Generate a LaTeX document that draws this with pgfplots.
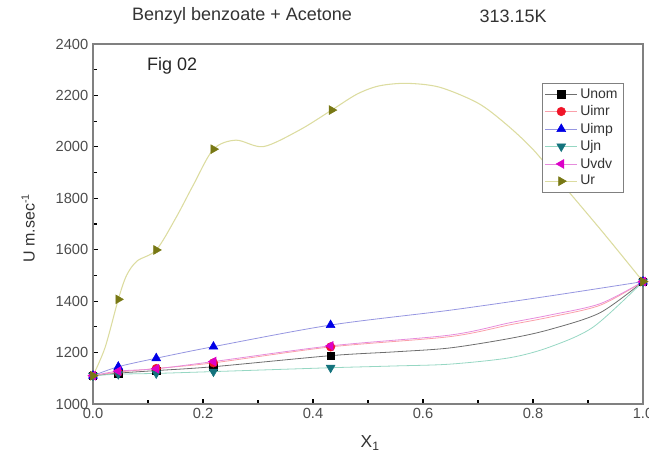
\documentclass[border=0pt]{standalone}
\usepackage{pgfplots}
\pgfplotsset{compat=1.18}
\usepackage{fontspec}
\setmainfont{Liberation Sans}

\definecolor{mnom}{RGB}{0,0,0}
\definecolor{lnom}{RGB}{110,110,110}
\definecolor{mimr}{RGB}{240,20,40}
\definecolor{limr}{RGB}{250,160,170}
\definecolor{mimp}{RGB}{0,0,230}
\definecolor{limp}{RGB}{150,150,225}
\definecolor{mjn}{RGB}{20,115,125}
\definecolor{ljn}{RGB}{150,215,195}
\definecolor{mvdv}{RGB}{220,0,200}
\definecolor{lvdv}{RGB}{230,140,220}
\definecolor{mr}{RGB}{120,120,20}
\definecolor{lr}{RGB}{220,220,160}

% legend entry: thin line in the curve colour, marker in the middle
\pgfplotsset{
  lineleg/.style={legend image code/.code={
    \draw[line width=0.5pt, #1] (0pt,0pt) -- (24pt,0pt);
    \draw[##1] plot coordinates {(12pt,0pt)};}},
}

\begin{document}
\begin{tikzpicture}
\begin{axis}[
  name=ax,
  scale only axis,
  width=412.5pt, height=270pt,
  xmin=0, xmax=1, ymin=1000, ymax=2400,
  xtick={0,0.2,0.4,0.6,0.8,1.0},
  ytick={1000,1200,1400,1600,1800,2000,2200,2400},
  minor x tick num=1, minor y tick num=1,
  tick pos=left, tick align=inside,
  major tick length=4pt, minor tick length=3pt,
  tick style={black, line width=0.8pt},
  axis line style={gray, line width=1.4pt},
  xticklabel style={/pgf/number format/.cd, fixed, fixed zerofill, precision=1},
  yticklabel style={/pgf/number format/1000 sep={}},
  /pgf/number format/assume math mode=true,
  tick label style={font=\fontsize{11}{11}\selectfont, text=black!70},
  legend style={draw=gray, fill=white, font=\fontsize{10.5}{11}\selectfont,
    at={(0.964,0.892)}, anchor=north east, row sep=0pt, inner sep=2pt,
    text=black!80},
  legend cell align=left,
  clip=false,
]
% lines (as drawn in the figure)
\addplot[lnom, line width=0.6pt, smooth, forget plot] coordinates {
 (0,1110) (0.046,1120) (0.115,1130) (0.219,1145) (0.432,1188) (0.55,1203)
 (0.649,1218) (0.758,1255) (0.831,1290) (0.922,1355) (1.0,1476)};
\addplot[limr, line width=0.6pt, smooth, forget plot] coordinates {
 (0,1110) (0.046,1124) (0.115,1138) (0.219,1160) (0.432,1222) (0.649,1262)
 (0.758,1308) (0.831,1338) (0.922,1384) (1.0,1476)};
\addplot[limp, line width=0.6pt, smooth, forget plot] coordinates {
 (0,1110) (0.046,1145) (0.115,1178) (0.219,1223) (0.432,1307) (0.65,1365)
 (0.83,1420) (1.0,1476)};
\addplot[ljn, line width=0.6pt, smooth, forget plot] coordinates {
 (0,1110) (0.046,1116) (0.115,1119) (0.219,1126) (0.432,1141) (0.55,1148)
 (0.649,1155) (0.758,1180) (0.831,1222) (0.91,1300) (1.0,1476)};
\addplot[lvdv, line width=0.6pt, smooth, forget plot] coordinates {
 (0,1110) (0.046,1128) (0.115,1137) (0.219,1165) (0.432,1226) (0.649,1268)
 (0.758,1316) (0.831,1346) (0.922,1390) (1.0,1476)};
\addplot[lr, line width=0.8pt, smooth, forget plot] coordinates {
 (0,1110) (0.022,1220) (0.046,1407) (0.061,1500) (0.08,1556) (0.115,1599)
 (0.151,1725) (0.182,1850) (0.219,1991) (0.26,2026) (0.31,2001) (0.376,2066)
 (0.434,2143) (0.48,2205) (0.52,2237) (0.57,2247) (0.63,2232) (0.70,2170)
 (0.75,2090) (0.80,1990) (0.86,1838) (0.93,1660) (1.0,1476)};

% data points
\addplot[only marks, mark=square*, mark size=2.8pt, mnom, lineleg=lnom]
 coordinates {(0,1110) (0.046,1120) (0.115,1130) (0.219,1145) (0.432,1188) (1.0,1476)};
\addlegendentry{Unom}
\addplot[only marks, mark=*, mark size=3.2pt, mimr, lineleg=limr]
 coordinates {(0,1110) (0.046,1124) (0.115,1138) (0.219,1160) (0.432,1222) (1.0,1476)};
\addlegendentry{Uimr}
\addplot[only marks, mark=triangle*, mark size=3.8pt, mimp, lineleg=limp]
 coordinates {(0,1110) (0.046,1145) (0.115,1178) (0.219,1223) (0.432,1307) (1.0,1476)};
\addlegendentry{Uimp}
\addplot[only marks, mark=triangle*, mark size=3.8pt, mark options={rotate=180}, mjn, lineleg=ljn]
 coordinates {(0,1110) (0.046,1116) (0.115,1119) (0.219,1126) (0.432,1141) (1.0,1476)};
\addlegendentry{Ujn}
\addplot[only marks, mark=triangle*, mark size=3.8pt, mark options={rotate=90}, mvdv, lineleg=lvdv]
 coordinates {(0,1110) (0.046,1128) (0.115,1137) (0.219,1165) (0.432,1226) (1.0,1476)};
\addlegendentry{Uvdv}
\addplot[only marks, mark=triangle*, mark size=3.8pt, mark options={rotate=-90}, mr, lineleg=lr]
 coordinates {(0,1110) (0.046,1407) (0.115,1599) (0.219,1991) (0.434,2143) (1.0,1476)};
\addlegendentry{Ur}

\node[font=\fontsize{13.5}{14}\selectfont, text=black!80] at (axis description cs:0.271,1.078) {Benzyl benzoate + Acetone};
\node[font=\fontsize{13.5}{14}\selectfont, text=black!80] at (axis description cs:0.764,1.078) {313.15K};
\node[font=\fontsize{13.5}{14}\selectfont, anchor=west, text=black!85] at (axis description cs:0.09,0.939) {Fig 02};
\node[font=\fontsize{13}{14}\selectfont, text=black!80] at (axis description cs:0.504,-0.108) {X\textsubscript{1}};
\node[font=\fontsize{12}{13}\selectfont, rotate=90, text=black!80] at (axis description cs:-0.118,0.489) {U m.sec\textsuperscript{-1}};
\end{axis}
\pgfresetboundingbox
\path ([shift={(-69.75pt,-36pt)}]ax.south west) rectangle ([shift={(4.5pt,33pt)}]ax.north east);
\end{tikzpicture}
\end{document}
